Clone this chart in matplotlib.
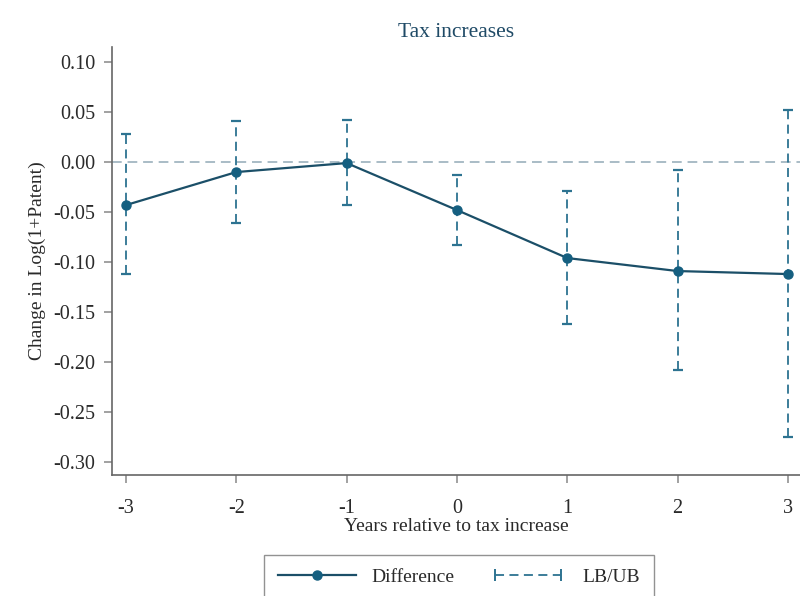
import numpy as np
import matplotlib
matplotlib.use("Agg")
import matplotlib.pyplot as plt
from matplotlib.lines import Line2D
from matplotlib.legend_handler import HandlerLine2D

# event-study estimates
years = [-3, -2, -1, 0, 1, 2, 3]
diff = [-0.043, -0.010, -0.001, -0.048, -0.096, -0.109, -0.112]
upper = [0.028, 0.041, 0.042, -0.013, -0.029, -0.008, 0.052]
lower = [-0.112, -0.061, -0.043, -0.083, -0.162, -0.208, -0.275]
yticks = [0.10, 0.05, 0.00, -0.05, -0.10, -0.15, -0.20, -0.25, -0.30]

LINE = "#1b4f68"
DOT = "#155f80"
BAR = "#2d7391"
REF = "#a9bcc6"
TXT = "#2a2a2a"

plt.rcParams["font.family"] = ["Liberation Serif", "DejaVu Serif"]

fig = plt.figure(figsize=(8.0, 5.96), dpi=100)
fig.patch.set_facecolor("white")
ax = fig.add_axes([0.14, 0.203, 0.86, 0.718])

ax.axhline(0, color=REF, lw=1.4, ls=(0, (5, 3)), zorder=1)

y = np.array(diff)
eb = ax.errorbar(years, y, yerr=[y - np.array(lower), np.array(upper) - y],
                 fmt="none", ecolor=BAR, elinewidth=1.3, capsize=3.8,
                 capthick=1.6, zorder=2)
eb[2][0].set_linestyle((0, (5, 3)))

ax.plot(years, diff, color=LINE, lw=1.6, marker="o", ms=6.5,
        mfc=DOT, mec=DOT, zorder=3)

ax.set_xlim(-3.127, 3.11)
ax.set_ylim(-0.313, 0.115)
ax.set_xticks(years)
ax.set_xticklabels([str(v) for v in years])
ax.set_yticks(yticks)
ax.set_yticklabels([f"{v:.2f}" for v in yticks])

for s in ("top", "right"):
    ax.spines[s].set_visible(False)
for s in ("left", "bottom"):
    ax.spines[s].set_color("#666666")
    ax.spines[s].set_linewidth(1.2)
ax.tick_params(direction="out", length=6, width=1.1, color="#888888",
               labelsize=14.5, labelcolor=TXT)
ax.tick_params(axis="x", pad=11)
ax.tick_params(axis="y", pad=6)

ax.set_title("Tax increases", fontsize=15.5, color="#1f4a66", pad=7)
ax.set_ylabel("Change in Log(1+Patent)", fontsize=14, color=TXT, labelpad=5)
ax.set_xlabel("Years relative to tax increase", fontsize=14, color=TXT,
              labelpad=0)

h_diff = Line2D([], [], color=LINE, lw=1.6, marker="o", ms=6.5,
                mfc=DOT, mec=DOT)
h_ci = Line2D([], [], color=BAR, lw=1.3, ls=(0, (5, 3)), marker="|",
              ms=8, mew=1.4)
leg = fig.legend([h_diff, h_ci], ["Difference", "LB/UB"],
                 loc="lower left", bbox_to_anchor=(0.318, -0.022),
                 ncol=2, fontsize=14, frameon=True, fancybox=False,
                 handlelength=4.0, columnspacing=1.8, borderpad=0.7,
                 handler_map={h_ci: HandlerLine2D(numpoints=2)})
leg.get_frame().set_edgecolor("#777777")
leg.get_frame().set_linewidth(1.0)
for t in leg.get_texts():
    t.set_color(TXT)

fig.savefig("out.png", dpi=100, facecolor="white")
